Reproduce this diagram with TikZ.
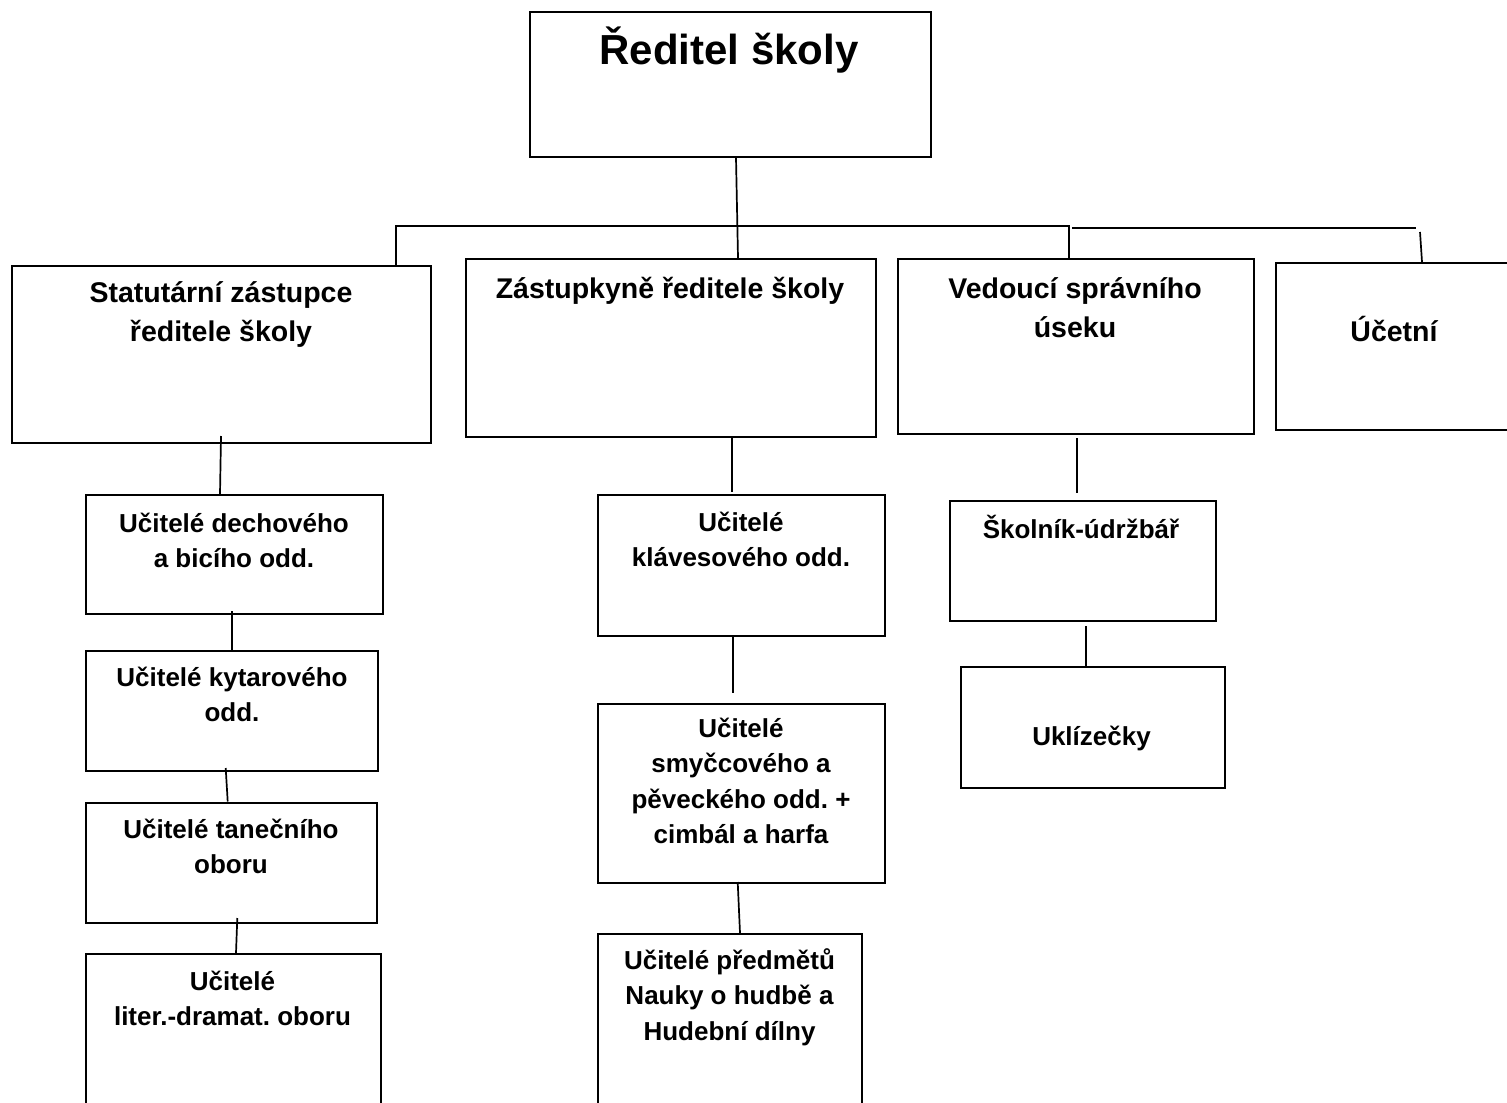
\documentclass[tikz,border=0pt]{standalone}
\usepackage{fontspec}
\setmainfont{Liberation Sans}
\usetikzlibrary{calc}
\newcommand\topstr{\rule{0pt}{1em}}
\tikzset{
 box/.style={draw, line width=1pt, inner sep=0pt, anchor=north west},
 sz/.style 2 args={minimum width=#1*0.5pt, minimum height=#2*0.5pt},
 conn/.style={line width=0.85pt},
 bar/.style={line width=1pt},
 tsub/.style={inner sep=0pt, anchor=north, align=center, font=\fontsize{13}{17.75}\selectfont\bfseries\frenchspacing},
 ttop/.style={inner sep=0pt, anchor=north, align=center, font=\fontsize{14.25}{19.5}\selectfont\bfseries\frenchspacing},
 ttitle/.style={inner sep=0pt, anchor=north, align=center, font=\fontsize{21}{25}\selectfont\bfseries},
}
\begin{document}
\begin{tikzpicture}[x=0.5pt,y=-0.5pt]
\useasboundingbox (0,0) rectangle (1507,1102);
\fill[white] (0,0) rectangle (1507,1102);
\clip (0,0) rectangle (1507,1102);

% boxes
\node[box, sz={401}{145}] (T) at (529,11) {};
\node[box, sz={419}{177}] (S) at (11,265) {};
\node[box, sz={410}{178}] (Z) at (465,258) {};
\node[box, sz={356}{175}] (V) at (897,258) {};
\node[box, sz={300}{167}] (U) at (1275,262) {};
\node[box, sz={297}{119}] (A1) at (85,494) {};
\node[box, sz={292}{120}] (A2) at (85,650) {};
\node[box, sz={291}{120}] (A3) at (85,801.5) {};
\node[box, sz={295}{200}] (A4) at (85,953) {};
\node[box, sz={287}{141}] (B1) at (597,494) {};
\node[box, sz={287}{179}] (B2) at (597,702.7) {};
\node[box, sz={264}{200}] (B3) at (597,933) {};
\node[box, sz={266}{120}] (C1) at (949,500) {};
\node[box, sz={264}{121}] (C2) at (960,666) {};

% texts
\node[ttitle] (tT) at (729,22) {\topstr Ředitel školy};
\node[ttop] (tS) at (221,273.5) {\topstr Statutární zástupce\\ředitele školy};
\node[ttop] (tZ) at (670,269.5) {\topstr Zástupkyně ředitele školy};
\node[ttop] (tV) at (1075,269.5) {\topstr Vedoucí správního\\úseku};
\node[ttop] (tU) at (1394,312.5) {\topstr Účetní};
\node[tsub] (tA1) at (234,506) {\topstr Učitelé dechového\\a bicího odd.};
\node[tsub] (tA2) at (232,660) {\topstr Učitelé kytarového\\odd.};
\node[tsub] (tA3) at (231,812) {\topstr Učitelé tanečního\\oboru};
\node[tsub] (tA4) at (232.5,964) {\topstr Učitelé\\liter.-dramat. oboru};
\node[tsub] (tB1) at (741,505) {\topstr Učitelé\\klávesového odd.};
\node[tsub] (tB2) at (741,711) {\topstr Učitelé\\smyčcového a\\pěveckého odd. +\\cimbál a harfa};
\node[tsub] (tB3) at (729.5,943) {\topstr Učitelé předmětů\\Nauky o hudbě a\\Hudební dílny};
\node[tsub] (tC1) at (1081,512) {\topstr Školník-údržbář};
\node[tsub] (tC2) at (1091.5,719) {\topstr Uklízečky};

% connectors
\draw[conn] ($(T.south west)+(207,0)$) -- ($(Z.north west)+(273,0)$);
\draw[bar] ($(S.north west)+(385,0)$) -- ++(0,-39) -| ($(V.north west)+(172,0)$);
\draw[bar] ($(V.north west)+(175,-30.5)$) -- ++(344,0);
\draw[conn] ($(U.north west)+(145,-30)$) -- ($(U.north west)+(147,0)$);
\draw[conn] ($(S.south west)+(210,-8)$) -- ($(A1.north west)+(135,0)$);
\draw[conn] ($(A1.south west)+(146.7,-4)$) -- ($(A2.north west)+(146.7,0)$);
\draw[conn] ($(A2.south west)+(140.7,-4)$) -- ($(A3.north west)+(142.7,0)$);
\draw[conn] ($(A3.south west)+(152.3,-5.5)$) -- ($(A4.north west)+(151,0)$);
\draw[conn] ($(Z.south west)+(266.7,0)$) -- ($(B1.north west)+(134.7,-2)$);
\draw[conn] ($(B1.south west)+(135.7,-2)$) -- ($(B2.north west)+(135.7,-9.4)$);
\draw[conn] ($(B2.south west)+(140.7,-1.7)$) -- ($(B3.north west)+(143,0)$);
\draw[conn] ($(V.south west)+(180,3)$) -- ($(C1.north west)+(128,-7.3)$);
\draw[conn] ($(C1.south west)+(136.7,4)$) -- ($(C2.north west)+(125.7,0)$);
\end{tikzpicture}
\end{document}
